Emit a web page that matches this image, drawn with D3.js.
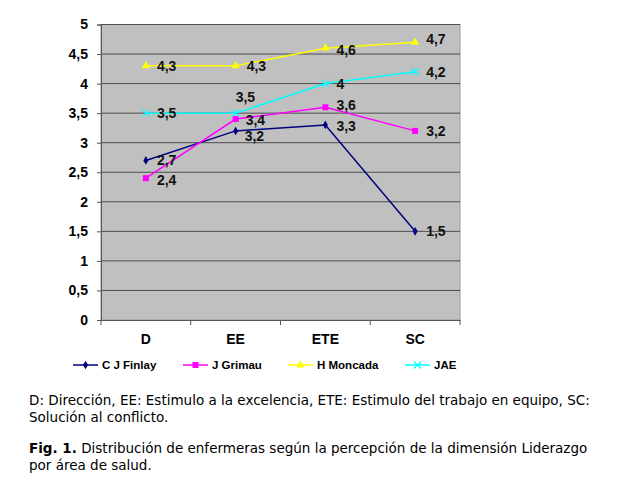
<!DOCTYPE html>
<html>
<head>
<meta charset="utf-8">
<script src="https://cdn.jsdelivr.net/npm/d3@7"></script>
<style>
body { margin: 0; background: #fff; }
svg { display: block; }
</style>
</head>
<body>
<script>
var categories = ['D', 'EE', 'ETE', 'SC'];
var seriesNames = ['C J Finlay', 'J Grimau', 'H Moncada', 'JAE'];
var finlay = [2.7, 3.2, 3.3, 1.5];
var grimau = [2.4, 3.4, 3.6, 3.2];
var moncada = [4.3, 4.3, 4.6, 4.7];
var jae = [3.5, 3.5, 4, 4.2];
var yTicks = [0, 0.5, 1, 1.5, 2, 2.5, 3, 3.5, 4, 4.5, 5];
var colors = ['#000080', '#ff00ff', '#ffff00', '#00ffff'];
var markers = ['diamond', 'square', 'triangle', 'cross'];

var series = [finlay, grimau, moncada, jae].map(function(v, i) {
    return { name: seriesNames[i], values: v, color: colors[i], marker: markers[i] };
});

var fmt = function(v) { return String(v).replace('.', ','); };
var chartFont = 'Liberation Sans, Arial, sans-serif';

var svg = d3.select('body').append('svg').attr('width', 624).attr('height', 483);

var x = d3.scaleBand().domain(categories).range([101, 460]);
var y = d3.scaleLinear().domain([0, 5]).range([320, 24.5]);

// plot background
svg.append('rect')
    .attr('x', 101).attr('y', y(5))
    .attr('width', 359).attr('height', y(0) - y(5))
    .attr('fill', '#c0c0c0')
    .attr('stroke', '#999').attr('stroke-width', 1);

// gridlines
svg.append('g').selectAll('line')
    .data(yTicks.slice(1))
    .enter().append('line')
    .attr('x1', 101).attr('x2', 460)
    .attr('y1', function(d) { return y(d); })
    .attr('y2', function(d) { return y(d); })
    .attr('stroke', '#4d4d4d').attr('stroke-width', 1);

// y axis
var yAxis = svg.append('g').attr('transform', 'translate(101,0)')
    .call(d3.axisLeft(y).tickValues(yTicks).tickFormat(fmt).tickSize(4));
yAxis.select('.domain').attr('stroke', '#555');
yAxis.selectAll('line').attr('stroke', '#555');
yAxis.selectAll('text')
    .attr('x', -13)
    .attr('font-family', chartFont)
    .attr('font-weight', 'bold').attr('font-size', 14).attr('fill', '#000');

// x axis
var xAxis = svg.append('g').attr('transform', 'translate(0,' + y(0) + ')')
    .call(d3.axisBottom(x).tickSize(0).tickPadding(14));
xAxis.select('.domain').attr('stroke', '#555');
xAxis.selectAll('text')
    .attr('font-family', chartFont)
    .attr('font-weight', 'bold').attr('font-size', 14).attr('fill', '#000');
xAxis.selectAll('.sep')
    .data(categories.concat(['end']))
    .enter().append('line')
    .attr('class', 'sep')
    .attr('x1', function(d, i) { return 101 + i * x.bandwidth(); })
    .attr('x2', function(d, i) { return 101 + i * x.bandwidth(); })
    .attr('y1', 0).attr('y2', 5)
    .attr('stroke', '#555');

var cx = function(i) { return x(categories[i]) + x.bandwidth() / 2; };

function drawMarker(g, kind, color, px, py) {
    if (kind === 'diamond') {
        g.append('path').attr('d', d3.symbol(d3.symbolDiamond, 22)())
            .attr('transform', 'translate(' + px + ',' + py + ')').attr('fill', color);
    } else if (kind === 'square') {
        g.append('rect').attr('x', px - 3).attr('y', py - 3).attr('width', 6).attr('height', 6).attr('fill', color);
    } else if (kind === 'triangle') {
        g.append('path').attr('d', d3.symbol(d3.symbolTriangle, 30)())
            .attr('transform', 'translate(' + px + ',' + py + ')').attr('fill', color);
    } else {
        g.append('path').attr('d', 'M-3.5,-3.5L3.5,3.5M-3.5,3.5L3.5,-3.5')
            .attr('transform', 'translate(' + px + ',' + py + ')')
            .attr('stroke', color).attr('stroke-width', 1.3).attr('fill', 'none');
    }
}

var line = d3.line()
    .x(function(d, i) { return cx(i); })
    .y(function(d) { return y(d); });

series.forEach(function(s) {
    var g = svg.append('g');
    g.append('path').attr('d', line(s.values))
        .attr('fill', 'none').attr('stroke', s.color).attr('stroke-width', 1.5);
    s.values.forEach(function(v, i) {
        drawMarker(g, s.marker, s.color, cx(i), y(v));
    });
});

// data labels (offsets in px relative to the point)
var labelDy = {
    'C J Finlay': [0, 5, 1, 0],
    'J Grimau': [1.5, 1, -2, 0],
    'H Moncada': [0, 0, 2, -3],
    'JAE': [0, -16, 0, 0]
};
var labelDx = {
    'C J Finlay': [11, 9, 11, 11],
    'J Grimau': [11, 10, 11, 11],
    'H Moncada': [11, 11, 11, 11],
    'JAE': [11, 0, 11, 11]
};
series.forEach(function(s) {
    svg.append('g').selectAll('text')
        .data(s.values)
        .enter().append('text')
        .attr('x', function(d, i) { return cx(i) + labelDx[s.name][i]; })
        .attr('y', function(d, i) { return y(d) + labelDy[s.name][i]; })
        .attr('dy', '0.35em')
        .attr('font-family', chartFont)
        .attr('font-weight', 'bold').attr('font-size', 14).attr('fill', '#111')
        .text(fmt);
});

// legend
var legendX = [73, 183, 288, 405];
var legend = svg.append('g');
series.forEach(function(s, i) {
    var lg = legend.append('g');
    lg.append('line').attr('x1', legendX[i]).attr('x2', legendX[i] + 25)
        .attr('y1', 365).attr('y2', 365)
        .attr('stroke', s.color).attr('stroke-width', 1.5);
    drawMarker(lg, s.marker, s.color, legendX[i] + 12.5, 365);
    lg.append('text').attr('x', legendX[i] + 29).attr('y', 365).attr('dy', '0.35em')
        .attr('font-family', chartFont)
        .attr('font-weight', 'bold').attr('font-size', 11.5).attr('fill', '#000')
        .text(s.name);
});

// caption
var capFont = 'DejaVu Sans, Verdana, sans-serif';
var caption = svg.append('g').attr('font-family', capFont).attr('font-size', 13.5).attr('fill', '#000');
caption.append('text').attr('x', 29).attr('y', 405)
    .text('D: Dirección, EE: Estimulo a la excelencia, ETE: Estimulo del trabajo en equipo, SC:');
caption.append('text').attr('x', 29).attr('y', 421.5).text('Solución al conflicto.');
var fig = caption.append('text').attr('x', 29).attr('y', 453);
fig.append('tspan').attr('font-weight', 'bold').text('Fig. 1.');
fig.append('tspan').text(' Distribución de enfermeras según la percepción de la dimensión Liderazgo');
caption.append('text').attr('x', 29).attr('y', 469.5).text('por área de salud.');
</script>
</body>
</html>
